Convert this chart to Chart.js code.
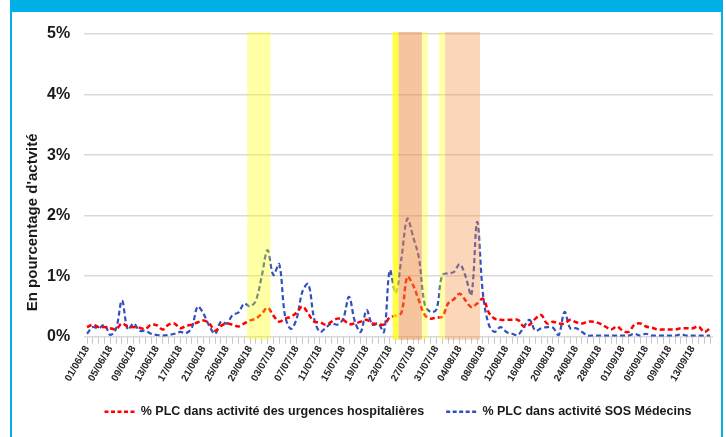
<!DOCTYPE html>
<html>
<head>
<meta charset="utf-8">
<script src="https://cdn.jsdelivr.net/npm/chart.js@4"></script>
<style>
    body { margin: 0; background: #ffffff; }
    #frame {
        position: absolute; left: 10px; top: 0; width: 713px; height: 437px;
        border-left: 2px solid #00b0e6; border-right: 2px solid #00b0e6; border-top: 12px solid #00b0e6;
        box-sizing: border-box;
    }
    #plcChart { position: absolute; left: 0; top: 0; }
</style>
</head>
<body>
<div id="frame"></div>
<canvas id="plcChart" width="726" height="437"></canvas>
<script>
/* dates : 01/06/18 -> 16/09/18 */
var dates = [];
var d = new Date(2018, 5, 1);
while (d <= new Date(2018, 8, 16)) {
    dates.push(('0' + d.getDate()).slice(-2) + '/' + ('0' + (d.getMonth() + 1)).slice(-2) + '/18');
    d.setDate(d.getDate() + 1);
}

// % PLC dans activité des urgences hospitalières
var urgences = [
    0.16, 0.2, 0.16, 0.16, 0.14, 0.13, 0.22, 0.17, 0.16, 0.15,
    0.13, 0.2, 0.19, 0.12, 0.2, 0.22, 0.14, 0.18, 0.2, 0.24,
    0.27, 0.22, 0.1, 0.18, 0.22, 0.2, 0.17, 0.22, 0.27, 0.3,
    0.38, 0.48, 0.35, 0.25, 0.3, 0.33, 0.4, 0.5, 0.38, 0.25,
    0.24, 0.2, 0.25, 0.3, 0.28, 0.21, 0.22, 0.25, 0.28, 0.22,
    0.21, 0.2, 0.32, 0.35, 0.4, 0.99, 0.85, 0.6, 0.36, 0.3,
    0.32, 0.33, 0.55, 0.62, 0.71, 0.6, 0.49, 0.55, 0.63, 0.4,
    0.3, 0.28, 0.28, 0.28, 0.28, 0.17, 0.2, 0.3, 0.36, 0.22,
    0.25, 0.22, 0.22, 0.28, 0.24, 0.22, 0.25, 0.25, 0.22, 0.17,
    0.12, 0.17, 0.1, 0.08, 0.2, 0.22, 0.17, 0.15, 0.12, 0.12,
    0.12, 0.12, 0.14, 0.14, 0.14, 0.17, 0.08, 0.14
];

// % PLC dans activité SOS Médecins
var sosMedecins = [
    0.05, 0.16, 0.14, 0.2, 0.03, 0.14, 0.6, 0.12, 0.22, 0.1,
    0.1, 0.05, 0.03, 0.02, 0.03, 0.05, 0.08, 0.06, 0.15, 0.5,
    0.38, 0.18, 0.05, 0.25, 0.22, 0.36, 0.4, 0.55, 0.5, 0.6,
    1.0, 1.43, 1.02, 1.2, 0.35, 0.13, 0.3, 0.75, 0.87, 0.3,
    0.08, 0.15, 0.22, 0.2, 0.3, 0.66, 0.25, 0.08, 0.44, 0.2,
    0.22, 0.08, 1.1, 0.72, 1.3, 1.95, 1.65, 1.3, 0.53, 0.41,
    0.45, 1.02, 1.05, 1.07, 1.2, 1.0, 0.69, 1.9, 0.7, 0.2,
    0.08, 0.16, 0.08, 0.05, 0.03, 0.16, 0.28, 0.1, 0.14, 0.16,
    0.15, 0.03, 0.41, 0.14, 0.14, 0.08, 0.02, 0.02, 0.02, 0.02,
    0.02, 0.02, 0.02, 0.02, 0.05, 0.02, 0.05, 0.02, 0.02, 0.02,
    0.02, 0.02, 0.04, 0.02, 0.02, 0.02, 0.02, 0.02
];

var yTicks = [0, 1, 2, 3, 4, 5];

// périodes de vigilance (jaune / orange)
var bandFrom  = ['29/06/18', '24/07/18', '25/07/18', '29/07/18', '01/08/18', '02/08/18'];
var bandTo    = ['02/07/18', '24/07/18', '28/07/18', '29/07/18', '01/08/18', '07/08/18'];
var bandLevel = ['jaune', 'jaune+', 'orange', 'jaune', 'jaune', 'orange-'];

var bandColors = {
    'jaune': 'rgba(255, 255, 0, 0.35)',
    'jaune+': 'rgba(255, 255, 0, 0.75)',
    'orange': 'rgba(240, 140, 60, 0.5)',
    'orange-': 'rgba(245, 140, 60, 0.36)'
};

var bandsPlugin = {
    id: 'bands',
    afterDatasetsDraw: function(chart) {
        var ctx = chart.ctx;
        var x = chart.scales.x;
        var area = chart.chartArea;
        var step = x.getPixelForValue(1) - x.getPixelForValue(0);
        ctx.save();
        for (var i = 0; i < bandFrom.length; i++) {
            var x1 = x.getPixelForValue(dates.indexOf(bandFrom[i])) - step / 2;
            var x2 = x.getPixelForValue(dates.indexOf(bandTo[i])) + step / 2;
            ctx.fillStyle = bandColors[bandLevel[i]];
            ctx.fillRect(x1, area.top - 2, x2 - x1, area.bottom - area.top + 5);
        }
        ctx.restore();
    }
};

// titre de l'axe Y + légende décalée vers la droite
var yTitlePlugin = {
    id: 'yTitle',
    afterLayout: function(chart) {
        chart.legend.left += 25;
        chart.legend.right += 25;
    },
    afterDraw: function(chart) {
        var ctx = chart.ctx;
        var area = chart.chartArea;
        ctx.save();
        ctx.translate(33, (area.top + area.bottom) / 2 + 37);
        ctx.rotate(-Math.PI / 2);
        ctx.font = "bold 15px Arial, 'Liberation Sans', sans-serif";
        ctx.fillStyle = '#1a1a1a';
        ctx.textAlign = 'center';
        ctx.textBaseline = 'middle';
        ctx.fillText("En pourcentage d'actvité", 0, 0);
        ctx.restore();
    }
};

Chart.defaults.font.family = "Arial, 'Liberation Sans', sans-serif";

var ctx = document.getElementById('plcChart').getContext('2d');
var plcChart = new Chart(ctx, {
    type: 'line',
    data: {
        labels: dates,
        datasets: [
            {
                label: '% PLC dans activité des urgences hospitalières',
                data: urgences,
                borderColor: '#ff0000',
                backgroundColor: '#ff0000',
                borderWidth: 2.5,
                borderDash: [5, 3],
                pointRadius: 0,
                pointStyle: 'line',
                tension: 0.35,
                fill: false
            },
            {
                label: '% PLC dans activité SOS Médecins',
                data: sosMedecins,
                borderColor: '#3050bf',
                backgroundColor: '#3050bf',
                borderWidth: 2.2,
                borderDash: [5, 3],
                pointRadius: 0,
                pointStyle: 'line',
                tension: 0.35,
                fill: false
            }
        ]
    },
    options: {
        responsive: false,
        animation: false,
        layout: { padding: { left: 33, right: 13, top: 34, bottom: 9 } },
        plugins: {
            legend: {
                position: 'bottom',
                labels: {
                    usePointStyle: true,
                    pointStyleWidth: 30,
                    boxHeight: 10,
                    padding: 22,
                    color: '#1a1a1a',
                    font: { size: 12.5, weight: 'bold' },
                    generateLabels: function(chart) {
                        var items = Chart.defaults.plugins.legend.labels.generateLabels(chart);
                        items.forEach(function(item) {
                            var ds = chart.data.datasets[item.datasetIndex];
                            item.lineDash = [4, 2.5];
                            item.lineWidth = 2.5;
                            item.strokeStyle = ds.borderColor;
                        });
                        return items;
                    }
                }
            },
            tooltip: { enabled: false }
        },
        scales: {
            x: {
                offset: true,
                grid: { drawOnChartArea: false, drawTicks: true, tickLength: 7, color: '#c8c8c8' },
                border: { display: false },
                ticks: {
                    autoSkip: false,
                    maxRotation: 60,
                    minRotation: 60,
                    padding: 0,
                    color: '#262626',
                    font: { size: 10, weight: 'bold' },
                    callback: function(value, index) {
                        return index % 4 === 0 ? dates[index] : '';
                    }
                }
            },
            y: {
                min: yTicks[0],
                max: yTicks[yTicks.length - 1],
                afterBuildTicks: function(axis) {
                    axis.ticks = yTicks.map(function(v) { return { value: v }; });
                },
                grid: { drawTicks: false, color: '#d9d9d9', lineWidth: 1.5 },
                border: { display: false },
                ticks: {
                    padding: 14,
                    color: '#1a1a1a',
                    font: { size: 16, weight: 'bold' },
                    callback: function(value) { return value + '%'; }
                }
            }
        }
    },
    plugins: [bandsPlugin, yTitlePlugin]
});
</script>
</body>
</html>
